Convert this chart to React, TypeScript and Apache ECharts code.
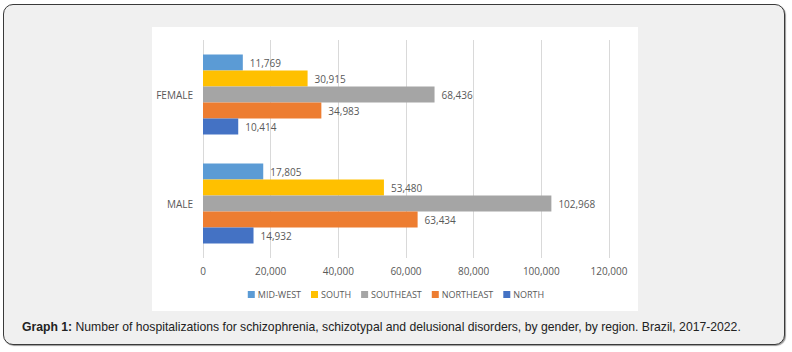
import React, { useEffect, useRef } from "react";
import * as echarts from "echarts";

const categories = ["MALE", "FEMALE"];
const seriesNames = ["MID-WEST", "SOUTH", "SOUTHEAST", "NORTHEAST", "NORTH"];
// values per series: [MALE, FEMALE]
const midwestValues = [17805, 11769];
const southValues = [53480, 30915];
const southeastValues = [102968, 68436];
const northeastValues = [63434, 34983];
const northValues = [14932, 10414];
const seriesColors = ["#5B9BD5", "#FFC000", "#A5A5A5", "#ED7D31", "#4472C4"];
const xTicks = { min: 0, max: 120000, interval: 20000 };
const captionBold = "Graph 1:";
const captionText =
  " Number of hospitalizations for schizophrenia, schizotypal and delusional disorders, by gender, by region. Brazil, 2017-2022.";

const allValues = [midwestValues, southValues, southeastValues, northeastValues, northValues];

const fmt = (v: number) => v.toLocaleString("en-US");
const FONT = "Open Sans";

export default function App() {
  const ref = useRef<HTMLDivElement>(null);
  useEffect(() => {
    if (!ref.current) return;
    const chart = echarts.init(ref.current, undefined, { renderer: "svg" });
    chart.setOption({
      animation: false,
      backgroundColor: "transparent",
      textStyle: { fontFamily: FONT },
      grid: { left: 203, right: 183, top: 40, bottom: 94 },
      legend: {
        data: seriesNames,
        left: "center",
        top: 285,
        icon: "rect",
        itemWidth: 7,
        itemHeight: 7,
        itemGap: 10,
        textStyle: { color: "#595959", fontSize: 9, fontFamily: FONT, padding: [0, 0, 0, -2] },
      },
      xAxis: {
        type: "value",
        min: xTicks.min,
        max: xTicks.max,
        interval: xTicks.interval,
        axisLine: { show: false },
        axisTick: { show: false },
        splitLine: { lineStyle: { color: "#d9d9d9", width: 1 } },
        axisLabel: {
          color: "#595959",
          fontSize: 10,
          fontFamily: FONT,
          margin: 8,
          formatter: (v: number) => fmt(v),
        },
      },
      yAxis: {
        type: "category",
        data: categories,
        axisLine: { show: false },
        axisTick: { show: false },
        splitLine: { show: false },
        axisLabel: { color: "#595959", fontSize: 10, fontFamily: FONT, margin: 10 },
      },
      series: seriesNames.map((name, i) => ({
        name,
        type: "bar",
        data: allValues[i],
        barWidth: 16,
        barGap: "0%",
        itemStyle: { color: seriesColors[i] },
        label: {
          show: true,
          position: "right",
          distance: 7,
          color: "#595959",
          fontSize: 10,
          fontFamily: FONT,
          formatter: (p: any) => fmt(p.value),
        },
      })),
      graphic: [
        {
          type: "text",
          left: 22,
          top: 321,
          style: {
            text: "{b|" + captionBold + "}{n|" + captionText + "}",
            rich: {
              b: { fontFamily: "Liberation Sans", fontSize: 12.2, fontWeight: "bold", fill: "#222" },
              n: { fontFamily: "Liberation Sans", fontSize: 12.2, fill: "#222" },
            },
          },
        },
      ],
    });
    return () => chart.dispose();
  }, []);

  return (
    <div style={{ position: "fixed", left: 0, top: 0, width: 792, height: 352, background: "#fff" }}>
      <div
        style={{
          position: "absolute",
          left: 3,
          top: 4,
          width: 780,
          height: 339,
          background: "#f0f0f0",
          border: "1.5px solid #3a3a3a",
          borderRadius: 10,
          boxShadow: "1px 1px 1px #999",
        }}
      />
      <div
        style={{
          position: "absolute",
          left: 152,
          top: 27,
          width: 486,
          height: 284,
          background: "#fff",
        }}
      />
      <div ref={ref} style={{ position: "absolute", left: 0, top: 0, width: 792, height: 352 }} />
    </div>
  );
}
